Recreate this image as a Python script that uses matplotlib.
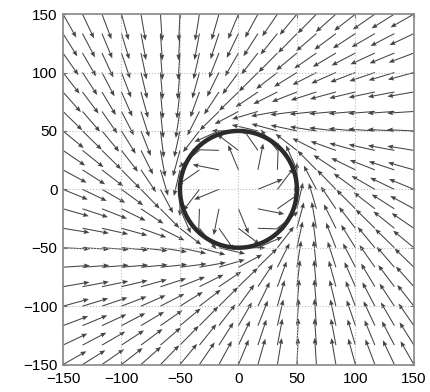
import numpy as np
import matplotlib
matplotlib.use('Agg')
import matplotlib.pyplot as plt

# grid of arrow tails and the limit cycle
grid_x = np.linspace(-150, 150, 19)
grid_y = np.linspace(-150, 150, 19)
cycle_radius = 50.0
swirl = 55.0        # tangential strength (fits arrow angles at r=66, 84, 161)
arrow_len = 23.0    # drawn length of each arrow, data units
ticks = [-150, -100, -50, 0, 50, 100, 150]

X, Y = np.meshgrid(grid_x, grid_y)
R = np.hypot(X, Y)
R[R == 0] = 1e-6
radial = (cycle_radius**2 - R**2) / R      # toward the circle
tang = swirl * np.ones_like(R)             # counter-clockwise
U = radial * X / R - tang * Y / R
V = radial * Y / R + tang * X / R
mag = np.hypot(U, V)
U = U / mag * arrow_len
V = V / mag * arrow_len

fig = plt.figure(figsize=(4.3, 3.92), dpi=100)
ax = fig.add_axes([0.1465, 0.07, 0.816, 0.894])

ax.quiver(X, Y, U, V, angles='xy', scale_units='xy', scale=1, pivot='tail',
          color='#454545', width=0.003, headwidth=4.5, headlength=5.5,
          headaxislength=5)

th = np.linspace(0, 2*np.pi, 300)
ax.plot(cycle_radius*np.cos(th), cycle_radius*np.sin(th), color='#2b2b2b', lw=3.2)

ax.set_xlim(-150, 150)
ax.set_ylim(-150, 150)
ax.set_xticks(ticks)
ax.set_yticks(ticks)
ax.grid(True, linestyle=':', color='#bbbbbb', lw=0.8)
ax.tick_params(direction='in', top=True, right=True, length=3, color='#777777',
               labelsize=11)
ax.tick_params(axis='x', pad=5)
ax.tick_params(axis='y', pad=4)
for s in ax.spines.values():
    s.set_color('#888888')
    s.set_linewidth(1.2)
for lab in ax.get_xticklabels() + ax.get_yticklabels():
    lab.set_family('Liberation Sans')

fig.savefig('out.png', dpi=100)
